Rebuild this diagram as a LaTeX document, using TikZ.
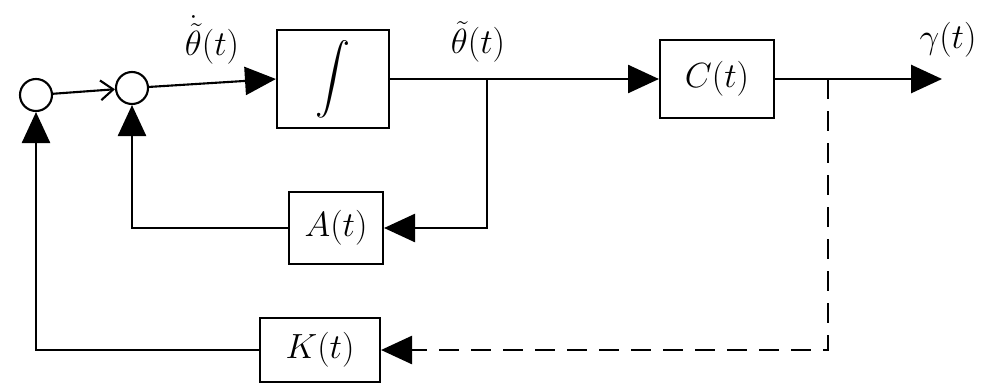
\documentclass[tikz,border=0pt]{standalone}
\usepackage{exscale}
\usetikzlibrary{arrows.meta}
\begin{document}
\begin{tikzpicture}[x=0.025cm,y=-0.025cm, line width=1.5pt,
  blk/.style={draw, rectangle, inner sep=0pt, font=\fontsize{26}{30}\selectfont},
  sumj/.style={draw, circle, minimum size=0.8cm, inner sep=0pt},
  tip/.style={-{Triangle[length=22pt,width=20pt]}},
  openarr/.style={-{Straight Barb[length=9pt,width=14pt]}},
  lbl/.style={font=\fontsize{24}{28}\selectfont}]
\useasboundingbox (0,0) rectangle (986,390);
\node[sumj] (s1) at (36,95) {};
\node[sumj] (s2) at (132,88) {};
\node[blk, minimum width=2.8cm, minimum height=2.45cm] (int) at (333,79) {\fontsize{26}{30}\selectfont$\displaystyle\int$};
\node[blk, minimum width=2.85cm, minimum height=1.95cm] (C) at (717,79) {$C(t)$};
\node[blk, minimum width=2.35cm, minimum height=1.8cm] (A) at (336,228) {$A(t)$};
\node[blk, minimum width=3cm, minimum height=1.6cm] (K) at (320,350) {$K(t)$};
\coordinate (b1) at (487,79);
\coordinate (b2) at (828,79);
\coordinate (out) at (942,79);
\node[lbl] (l1) at (212,40) {$\dot{\tilde\theta}(t)$};
\node[lbl] (l2) at (478,42) {$\tilde\theta(t)$};
\node[lbl] (l3) at (948,40) {$\gamma(t)$};
\draw[openarr] (s1) -- (s2);
\draw[tip] (s2) -- (int.west);
\draw (int.east) -- (b1);
\draw[tip] (b1) -- (C.west);
\draw[tip] (b1) -- (b1 |- A) -- (A.east);
\draw[tip] (A.west) -| (s2.south);
\draw (C.east) -- (b2);
\draw[tip] (b2) -- (out);
\draw[tip, dash pattern=on 0.5cm off 0.3cm] (b2) -- (b2 |- K) -- (K.east);
\draw[tip] (K.west) -| (s1.south);
\end{tikzpicture}
\end{document}
